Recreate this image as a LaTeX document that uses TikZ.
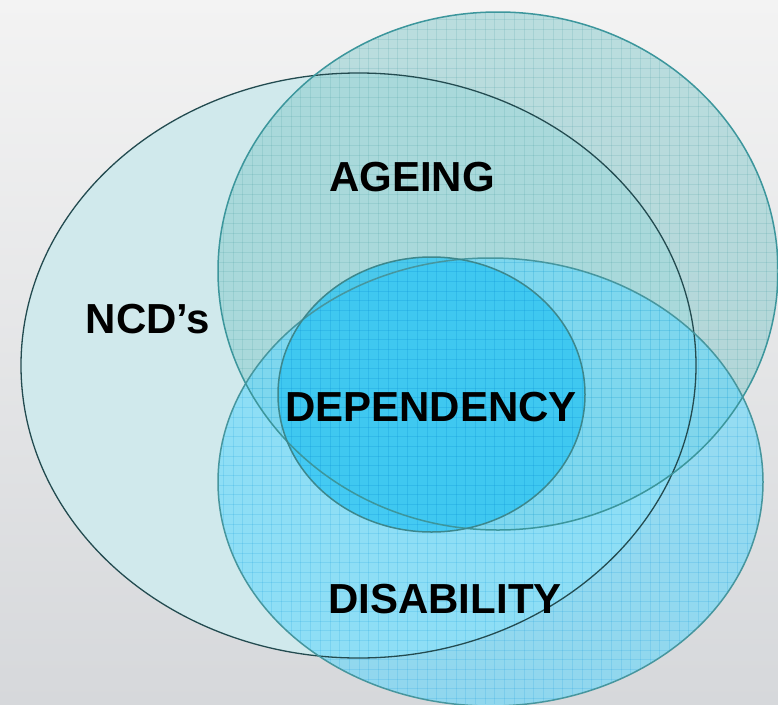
\documentclass[tikz,border=0pt]{standalone}
\usepackage{fontspec}
\setmainfont{Liberation Sans}
\definecolor{bgtop}{RGB}{243,243,243}
\definecolor{bgbot}{RGB}{214,216,219}
\definecolor{ncdfill}{RGB}{208,233,236}
\definecolor{ncdline}{RGB}{35,75,80}
\definecolor{agefill}{RGB}{132,202,204}
\definecolor{ageline}{RGB}{60,150,156}
\definecolor{disfill}{RGB}{95,215,252}
\definecolor{disline}{RGB}{70,150,158}
\definecolor{depfill}{RGB}{40,195,242}
\definecolor{depline}{RGB}{60,135,140}
\tikzset{
  lbl/.style={font=\bfseries\fontsize{42}{48}\selectfont, text=black, inner sep=0pt},
  gridline/.style={line width=0.5pt, opacity=0.16}
}
\newcommand{\texgrid}[1]{%
  \foreach \gx in {0,9.7,...,778} {\draw[gridline, draw=#1] (\gx,0) -- (\gx,704);}
  \foreach \gy in {0,9.7,...,704} {\draw[gridline, draw=#1] (0,\gy) -- (778,\gy);}
}
\begin{document}
\begin{tikzpicture}[x=1pt,y=-1pt]
\useasboundingbox (0,0) rectangle (778,704);
\shade[top color=bgtop, bottom color=bgbot] (0,0) rectangle (778,704);
% NCD's
\path[fill=ncdfill] (358.5,365.5) ellipse [x radius=337.5, y radius=292.5];
% AGEING
\path[fill=agefill, fill opacity=0.5] (498,271) ellipse [x radius=280, y radius=259];
\begin{scope}
  \clip (498,271) ellipse [x radius=280, y radius=259];
  \texgrid{ageline}
\end{scope}
% DISABILITY
\path[fill=disfill, fill opacity=0.58] (490.5,482) ellipse [x radius=272.5, y radius=224];
\begin{scope}
  \clip (490.5,482) ellipse [x radius=272.5, y radius=224];
  \texgrid{cyan!80!blue}
\end{scope}
% DEPENDENCY
\path[fill=depfill, fill opacity=0.72] (431.5,394.5) ellipse [x radius=153.5, y radius=137.5];
\begin{scope}
  \clip (431.5,394.5) ellipse [x radius=153.5, y radius=137.5];
  \texgrid{cyan!70!blue}
\end{scope}
% outlines
\draw[ncdline, line width=1.3pt] (358.5,365.5) ellipse [x radius=337.5, y radius=292.5];
\draw[ageline, line width=1.5pt] (498,271) ellipse [x radius=280, y radius=259];
\draw[disline, line width=1.5pt] (490.5,482) ellipse [x radius=272.5, y radius=224];
\draw[depline, line width=1.5pt] (431.5,394.5) ellipse [x radius=153.5, y radius=137.5];
% labels
\node[lbl] (ageing) at (412,177) {AGEING};
\node[lbl] (ncd) at (148,319) {NCD’s};
\node[lbl] (dep) at (431,407) {DEPENDENCY};
\node[lbl] (dis) at (445,599) {DISABILITY};
\end{tikzpicture}
\end{document}
